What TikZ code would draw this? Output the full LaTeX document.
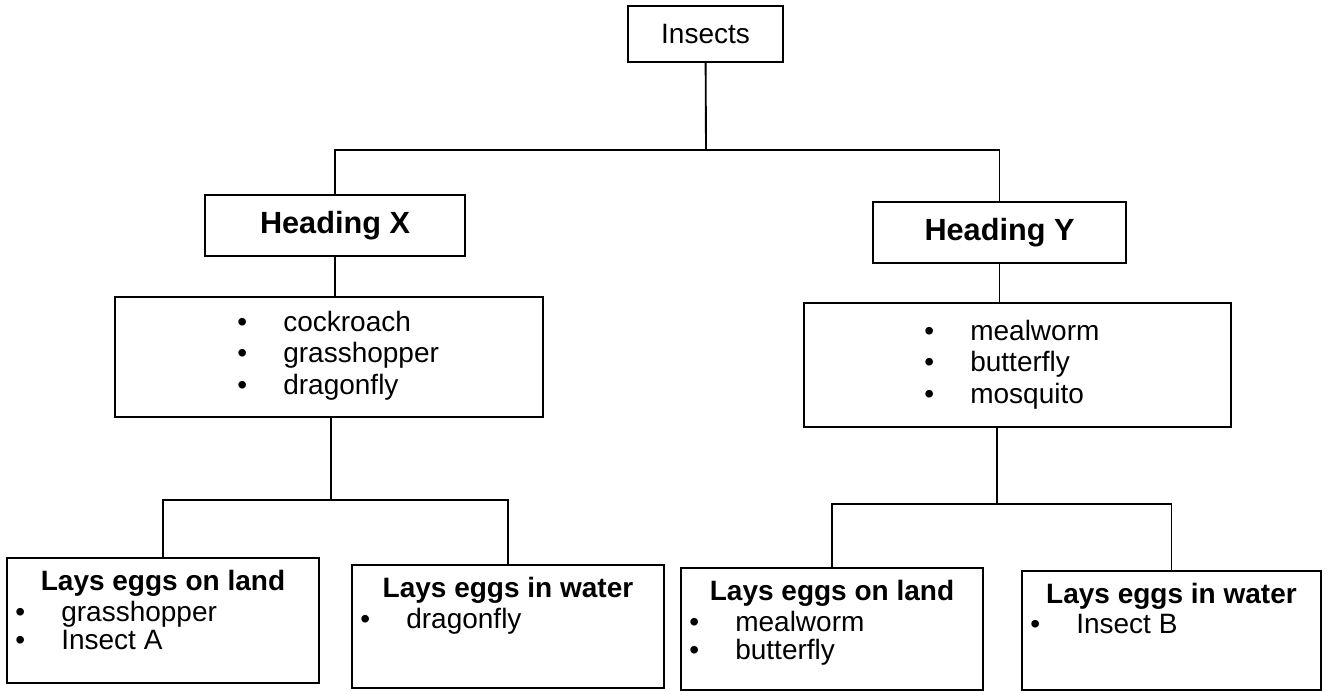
\documentclass[tikz,border=0pt]{standalone}
\usepackage{fontspec}
\setmainfont{Liberation Sans}
\usetikzlibrary{positioning,calc}

% one unit of the picture
\newlength{\unitpx}
\setlength{\unitpx}{0.75pt}
% bullet with a fixed gap before the item
\newcommand{\itm}{\makebox[34.5pt][l]{\textbullet}}

\begin{document}
\begin{tikzpicture}[
  x=\unitpx, y=-\unitpx,
  every node/.style={font=\fontsize{21}{23.5}\selectfont},
  box/.style={rectangle, draw, line width=1.4pt, inner sep=0pt},
  head/.style={font=\fontsize{23}{25}\selectfont\bfseries},
  title/.style={font=\fontsize{21}{23.5}\selectfont\bfseries, inner sep=0pt},
  items/.style={align=left, inner sep=0pt},
  leafitems/.style={items, font=\fontsize{21}{21}\selectfont},
  link/.style={line width=1.4pt}
]
\useasboundingbox (0,0) rectangle (1329,691);
\fill[white] (0,0) rectangle (1329,691);

% top of the tree
\node[box, minimum width=155\unitpx, minimum height=56\unitpx] (insects) at (705.5,34) {Insects};
\node[box, head, minimum width=260\unitpx, minimum height=61\unitpx] (headX) at (335,225.5) {Heading X};
\node[box, head, minimum width=253\unitpx, minimum height=61\unitpx] (headY) at (999.5,232.5) {Heading Y};

% the two lists
\node[box, minimum width=428\unitpx, minimum height=120\unitpx] (listX) at (329,357) {};
\node[items, below right=15\unitpx and 123\unitpx of listX.north west] (listXitems)
  {\itm cockroach\\ \itm grasshopper\\ \itm dragonfly};
\node[box, minimum width=427\unitpx, minimum height=124\unitpx] (listY) at (1017.5,365) {};
\node[items, below right=18\unitpx and 121\unitpx of listY.north west] (listYitems)
  {\itm mealworm\\ \itm butterfly\\ \itm mosquito};

% where the eggs are laid
\node[box, minimum width=312\unitpx, minimum height=125\unitpx] (landX) at (163,620.5) {};
\node[title, below=13\unitpx of landX.north] (landXtitle) {Lays eggs on land};
\node[leafitems, below right=44\unitpx and 9\unitpx of landX.north west] (landXitems)
  {\itm grasshopper\\ \itm Insect A};

\node[box, minimum width=312\unitpx, minimum height=123\unitpx] (waterX) at (508,626.5) {};
\node[title, below=13\unitpx of waterX.north] (waterXtitle) {Lays eggs in water};
\node[leafitems, below right=44\unitpx and 9\unitpx of waterX.north west] (waterXitems)
  {\itm dragonfly};

\node[box, minimum width=302\unitpx, minimum height=122\unitpx] (landY) at (832,629) {};
\node[title, below=13\unitpx of landY.north] (landYtitle) {Lays eggs on land};
\node[leafitems, below right=44\unitpx and 9\unitpx of landY.north west] (landYitems)
  {\itm mealworm\\ \itm butterfly};

\node[box, minimum width=299\unitpx, minimum height=119\unitpx] (waterY) at (1171.5,630.5) {};
\node[title, below=13\unitpx of waterY.north] (waterYtitle) {Lays eggs in water};
\node[leafitems, below right=44\unitpx and 9\unitpx of waterY.north west] (waterYitems)
  {\itm Insect B};

% branch points
\coordinate (forkTop) at (706,150);
\coordinate (forkX) at (331,500);
\coordinate (forkY) at (997,504);

\draw[link] (insects) -- (forkTop);
\draw[link] (forkTop) -| (headX);
\draw[link] (forkTop) -| (headY);
\draw[link] (headX) -- (headX |- listX.north);
\draw[link] (headY) -- (headY |- listY.north);
\draw[link] (listX.south -| forkX) -- (forkX);
\draw[link] (forkX) -| (landX);
\draw[link] (forkX) -| (waterX);
\draw[link] (listY.south -| forkY) -- (forkY);
\draw[link] (forkY) -| (landY);
\draw[link] (forkY) -| (waterY);
\end{tikzpicture}
\end{document}
